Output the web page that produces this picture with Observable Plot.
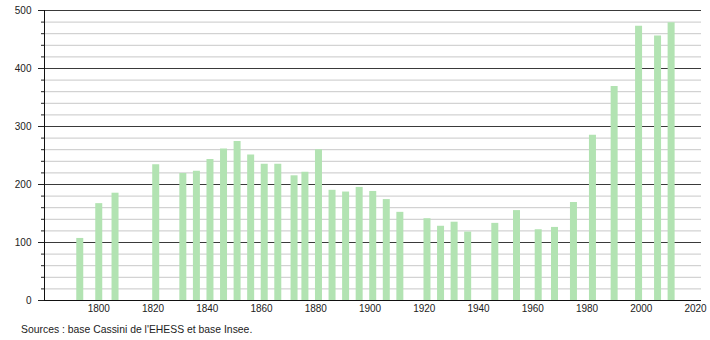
<!DOCTYPE html>
<html>
<head>
<meta charset="utf-8">
<script src="https://cdn.jsdelivr.net/npm/d3@7"></script>
<script src="https://cdn.jsdelivr.net/npm/@observablehq/plot@0.6"></script>
<style>
  body { margin: 0; background: #fff; font-family: "Liberation Sans", Arial, sans-serif; }
  #chart svg { display: block; }
  #caption { font-size: 10.4px; color: #222; margin: 6px 0 0 21px; }
</style>
</head>
<body>
<div id="chart"></div>
<div id="caption">Sources : base Cassini de l'EHESS et base Insee.</div>
<script>
const years = [1793, 1800, 1806, 1821, 1831, 1836, 1841, 1846, 1851, 1856, 1861, 1866, 1872, 1876, 1881, 1886, 1891, 1896, 1901, 1906, 1911, 1921, 1926, 1931, 1936, 1946, 1954, 1962, 1968, 1975, 1982, 1990, 1999, 2006, 2011];
const population = [107, 167, 185, 234, 219, 223, 243, 261, 274, 251, 235, 235, 215, 221, 260, 190, 187, 195, 188, 174, 152, 141, 128, 135, 118, 133, 155, 122, 126, 169, 285, 369, 473, 456, 479];
const xTicks = [1800, 1820, 1840, 1860, 1880, 1900, 1920, 1940, 1960, 1980, 2000, 2020];
const yMajor = [100, 200, 300, 400, 500];
const yLabels = [0, 100, 200, 300, 400, 500];
const yMinor = d3.range(20, 500, 20).filter(v => v % 100 !== 0);
const xDomain = [1780, 2022.2];

const data = years.map((y, i) => ({year: y, pop: population[i]}));

const chart = Plot.plot({
  width: 710,
  height: 318,
  marginTop: 10,
  marginBottom: 18,
  marginLeft: 44,
  marginRight: 9,
  style: {fontFamily: "'Liberation Sans', Arial, sans-serif", fontSize: "10px", color: "#222"},
  x: {type: "linear", domain: xDomain, label: null},
  y: {type: "linear", domain: [0, 500], label: null},
  marks: [
    Plot.ruleY(yMinor, {x1: xDomain[0], x2: xDomain[1], stroke: "#c8c8c8", strokeWidth: 1}),
    Plot.ruleY(yMajor, {x1: xDomain[0], x2: xDomain[1], stroke: "#3a3a3a", strokeWidth: 1}),
    Plot.ruleX(data, {x: "year", y1: 0, y2: "pop", stroke: "#b2e3b2", strokeWidth: 7}),
    Plot.axisY({ticks: yLabels, tickSize: 0, tickPadding: 13, label: null}),
    Plot.axisY({ticks: yLabels, tickSize: 6, text: null, label: null, stroke: "#222"}),
    Plot.axisY({ticks: yMinor, tickSize: 3, text: null, label: null, stroke: "#222"}),
    Plot.axisX({ticks: xTicks, tickSize: 0, tickPadding: 4, tickFormat: d => String(d), label: null}),
    Plot.ruleX([xDomain[0]], {y1: 0, y2: 500, stroke: "#111"}),
    Plot.ruleY([0], {x1: xDomain[0], x2: xDomain[1], stroke: "#111"})
  ]
});
document.getElementById("chart").append(chart);
</script>
</body>
</html>
